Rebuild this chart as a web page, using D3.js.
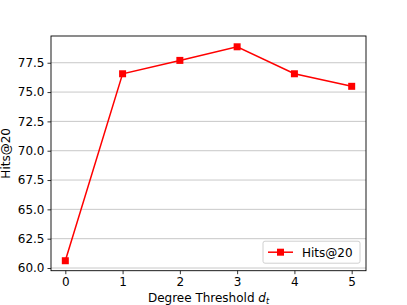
<!DOCTYPE html>
<html>
<head>
<meta charset="utf-8">
<script src="https://cdn.jsdelivr.net/npm/d3@7"></script>
<style>
  body { margin: 0; background: #fff; }
  text { font-family: 'DejaVu Sans', sans-serif; fill: #000; }
</style>
</head>
<body>
<div id="graf"></div>
<script>
// Hits@20 vs degree threshold

thresholds = [0, 1, 2, 3, 4, 5]
hits = [60.62, 76.56, 77.7, 78.86, 76.56, 75.49]
yTicks = [60.0, 62.5, 65.0, 67.5, 70.0, 72.5, 75.0, 77.5]
serieName = 'Hits@20'

ancho_total = 407
alto_total = 305
margins = { top: 36, left: 51, right: 41, bottom: 34.3 }
ancho = ancho_total - margins.left - margins.right
alto = alto_total - margins.top - margins.bottom

svg = d3.select('#graf').append('svg')
  .attr('width', ancho_total)
  .attr('height', alto_total)

g = svg.append('g')
  .attr('transform', `translate(${margins.left}, ${margins.top})`)

x = d3.scaleLinear().domain([-0.25, 5.25]).range([0, ancho])
y = d3.scaleLinear().domain([59.77, 79.78]).range([alto, 0])

// grid horizontal
g.append('g')
  .selectAll('line')
  .data(yTicks)
  .enter().append('line')
    .attr('x1', 0)
    .attr('x2', ancho)
    .attr('y1', d => y(d))
    .attr('y2', d => y(d))
    .attr('stroke', '#b0b0b0')
    .attr('stroke-opacity', 0.7)
    .attr('stroke-width', 1)

xAxis = d3.axisBottom(x).tickValues(thresholds).tickFormat(d3.format('d')).tickSize(3.5).tickPadding(3)
yAxis = d3.axisLeft(y).tickValues(yTicks).tickFormat(d3.format('.1f')).tickSize(3.5).tickPadding(3)

gx = g.append('g')
  .attr('transform', `translate(0,${alto})`)
  .call(xAxis)
gy = g.append('g').call(yAxis)

;[gx, gy].forEach(a => {
  a.select('.domain').remove()
  a.selectAll('text').attr('font-size', '12px').attr('font-family', 'DejaVu Sans')
  a.selectAll('line').attr('stroke', '#000').attr('stroke-width', 0.8)
})

// marco
g.append('rect')
  .attr('x', 0)
  .attr('y', 0)
  .attr('width', ancho)
  .attr('height', alto)
  .attr('fill', 'none')
  .attr('stroke', '#000')
  .attr('stroke-width', 0.9)

// serie
line = d3.line().x((d, i) => x(thresholds[i])).y(d => y(d))
g.append('path')
  .datum(hits)
  .attr('d', line)
  .attr('fill', 'none')
  .attr('stroke', '#ff0000')
  .attr('stroke-width', 1.5)

ms = 7
g.selectAll('.pt')
  .data(hits)
  .enter().append('rect')
    .attr('class', 'pt')
    .attr('x', (d, i) => x(thresholds[i]) - ms / 2)
    .attr('y', d => y(d) - ms / 2)
    .attr('width', ms)
    .attr('height', ms)
    .attr('fill', '#ff0000')

// etiquetas
svg.append('text')
  .attr('x', margins.left + ancho / 2)
  .attr('y', 302)
  .attr('text-anchor', 'middle')
  .attr('font-size', '12px')
  .html('Degree Threshold <tspan font-style="italic">d</tspan><tspan font-style="italic" font-size="8px" dy="2">t</tspan>')

svg.append('text')
  .attr('transform', `translate(10, ${margins.top + alto / 2}) rotate(-90)`)
  .attr('text-anchor', 'middle')
  .attr('font-size', '12px')
  .text(serieName)

// leyenda
lx = ancho - 103, ly = alto - 29.5
leg = g.append('g').attr('transform', `translate(${lx}, ${ly})`)
leg.append('rect')
  .attr('width', 97)
  .attr('height', 22)
  .attr('rx', 2)
  .attr('fill', '#fff')
  .attr('fill-opacity', 0.8)
  .attr('stroke', '#d0d0d0')
  .attr('stroke-width', 1)
leg.append('line')
  .attr('x1', 5).attr('x2', 30)
  .attr('y1', 11).attr('y2', 11)
  .attr('stroke', '#ff0000')
  .attr('stroke-width', 1.5)
leg.append('rect')
  .attr('x', 17.5 - ms / 2).attr('y', 11 - ms / 2)
  .attr('width', ms).attr('height', ms)
  .attr('fill', '#ff0000')
leg.append('text')
  .attr('x', 39)
  .attr('y', 15.5)
  .attr('font-size', '12px')
  .text(serieName)
</script>
</body>
</html>
